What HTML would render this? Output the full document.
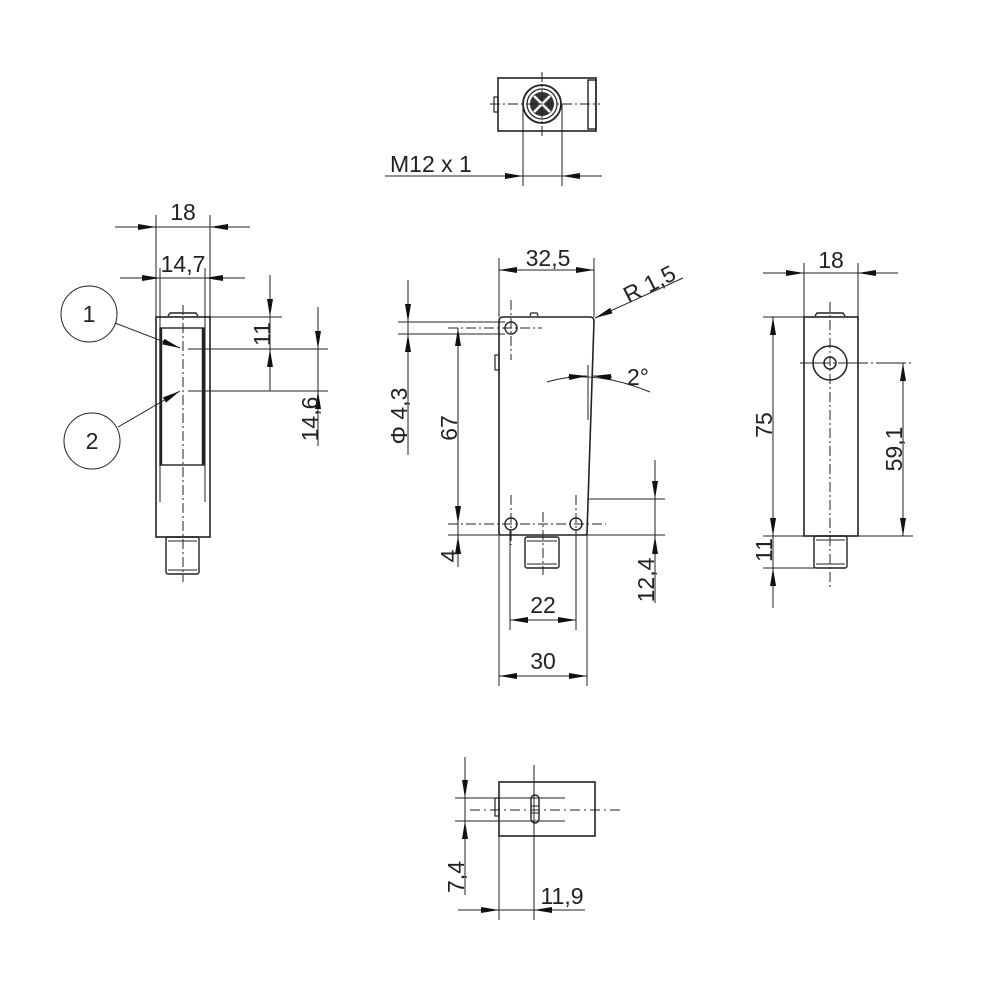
<!DOCTYPE html>
<html><head><meta charset="utf-8"><style>
html,body{margin:0;padding:0;background:#fff}
svg{display:block}
text{font-family:"Liberation Sans",sans-serif;font-size:23px;fill:#222}
</style></head><body>
<svg width="1000" height="1000" viewBox="0 0 1000 1000" xmlns="http://www.w3.org/2000/svg">
<defs>
<marker id="a" viewBox="0 0 18 6" refX="18" refY="3" markerWidth="18" markerHeight="6" markerUnits="userSpaceOnUse" orient="auto"><path d="M0,0 L18,3 L0,6 z" fill="#111"/></marker>
</defs>
<g stroke="#222" fill="none" stroke-width="1">

<!-- TOP VIEW -->
<rect x="498" y="78" width="98" height="53" stroke-width="1.6"/>
<rect x="588" y="80" width="8" height="49" stroke-width="1.4"/>
<rect x="494" y="97" width="4" height="15" stroke-width="1.2"/>
<circle cx="542" cy="104" r="19" stroke-width="1.8"/>
<circle cx="542" cy="104" r="15" stroke-width="1.2"/>
<circle cx="542" cy="104" r="12" fill="#333" stroke="none"/>
<g stroke="#fff" stroke-width="2.5"><line x1="534" y1="96" x2="550" y2="112"/><line x1="550" y1="96" x2="534" y2="112"/></g>
<line x1="542" y1="72" x2="542" y2="138" stroke-dasharray="10 3 2 3"/>
<line x1="490" y1="104" x2="600" y2="104" stroke-dasharray="10 3 2 3"/>
<line x1="523" y1="104" x2="523" y2="186"/>
<line x1="562" y1="104" x2="562" y2="186"/>
<line x1="385" y1="176" x2="602" y2="176"/>
<line x1="505" y1="176" x2="523" y2="176" marker-end="url(#a)"/>
<line x1="580" y1="176" x2="562" y2="176" marker-end="url(#a)"/>

<!-- LEFT VIEW -->
<rect x="156" y="317" width="54" height="220" stroke-width="1.6"/>
<rect x="160" y="328" width="44" height="137" stroke-width="1.4"/>
<line x1="161" y1="328" x2="161" y2="465" stroke-width="2.4"/>
<line x1="203" y1="328" x2="203" y2="465" stroke-width="2.4"/>
<line x1="160" y1="317" x2="160" y2="502"/>
<line x1="205" y1="317" x2="205" y2="502"/>
<path d="M168,316 L170,313 L196,313 L198,316" stroke-width="1.4"/>
<rect x="166" y="537" width="33" height="37" rx="2" stroke-width="1.4"/>
<line x1="168" y1="541" x2="197" y2="541"/><line x1="168" y1="570" x2="197" y2="570"/>
<line x1="183" y1="305" x2="183" y2="582" stroke-dasharray="10 3 2 3"/>
<line x1="156" y1="215" x2="156" y2="317"/>
<line x1="210" y1="215" x2="210" y2="317"/>
<line x1="160" y1="268" x2="160" y2="330"/>
<line x1="205" y1="268" x2="205" y2="330"/>
<line x1="115" y1="227" x2="250" y2="227"/>
<line x1="138" y1="227" x2="156" y2="227" marker-end="url(#a)"/>
<line x1="228" y1="227" x2="210" y2="227" marker-end="url(#a)"/>
<line x1="120" y1="278" x2="245" y2="278"/>
<line x1="142" y1="278" x2="160" y2="278" marker-end="url(#a)"/>
<line x1="223" y1="278" x2="205" y2="278" marker-end="url(#a)"/>
<line x1="210" y1="317" x2="282" y2="317"/>
<line x1="188" y1="349" x2="328" y2="349"/>
<line x1="188" y1="391" x2="328" y2="391"/>
<line x1="270" y1="275" x2="270" y2="391"/>
<line x1="270" y1="297" x2="270" y2="317" marker-end="url(#a)"/>
<line x1="270" y1="369" x2="270" y2="349" marker-end="url(#a)"/>
<line x1="318" y1="307" x2="318" y2="446"/>
<line x1="318" y1="330" x2="318" y2="349" marker-end="url(#a)"/>
<line x1="318" y1="410" x2="318" y2="391" marker-end="url(#a)"/>
<circle cx="89" cy="314" r="28"/>
<circle cx="92" cy="441" r="28"/>
<line x1="115" y1="323" x2="180" y2="348" marker-end="url(#a)"/>
<line x1="118" y1="427" x2="180" y2="391" marker-end="url(#a)"/>

<!-- MAIN VIEW -->
<path d="M503,317 L590,317 Q594,317 594,321 L587,533 Q587,535 585,535 L501,535 Q499,535 499,533 L499,321 Q499,317 503,317 Z" stroke-width="1.6"/>
<path d="M530,316 L531,313 L537,313 L538,316" stroke-width="1.2"/>
<rect x="495" y="355" width="4" height="15" stroke-width="1.2"/>
<circle cx="511" cy="328" r="6" stroke-width="1.4"/>
<circle cx="511" cy="524" r="6" stroke-width="1.4"/>
<circle cx="576" cy="524" r="6" stroke-width="1.4"/>
<rect x="525" y="537" width="34" height="31" rx="2" stroke-width="1.4"/>
<line x1="527" y1="541" x2="557" y2="541"/><line x1="527" y1="564" x2="557" y2="564"/>
<g stroke-dasharray="10 3 2 3">
<line x1="511" y1="300" x2="511" y2="360"/>
<line x1="511" y1="495" x2="511" y2="545"/>
<line x1="576" y1="495" x2="576" y2="545"/>
<line x1="543" y1="512" x2="543" y2="575"/>
<line x1="448" y1="328" x2="542" y2="328"/>
<line x1="448" y1="524" x2="606" y2="524"/>
</g>
<line x1="499" y1="258" x2="499" y2="317"/>
<line x1="594" y1="258" x2="594" y2="317"/>
<line x1="499" y1="270" x2="594" y2="270"/>
<line x1="517" y1="270" x2="499" y2="270" marker-end="url(#a)"/>
<line x1="576" y1="270" x2="594" y2="270" marker-end="url(#a)"/>
<line x1="683" y1="278" x2="595" y2="318" marker-end="url(#a)"/>
<line x1="588" y1="365" x2="588" y2="420"/>
<path d="M547,382 Q592,368 650,392"/>
<line x1="568" y1="377" x2="587" y2="376" marker-end="url(#a)"/>
<line x1="612" y1="377" x2="593" y2="376" marker-end="url(#a)"/>
<line x1="398" y1="322" x2="505" y2="322"/>
<line x1="398" y1="334" x2="505" y2="334"/>
<line x1="408" y1="280" x2="408" y2="455"/>
<line x1="408" y1="302" x2="408" y2="322" marker-end="url(#a)"/>
<line x1="408" y1="354" x2="408" y2="334" marker-end="url(#a)"/>
<line x1="458" y1="328" x2="458" y2="567"/>
<line x1="458" y1="346" x2="458" y2="328" marker-end="url(#a)"/>
<line x1="458" y1="506" x2="458" y2="524" marker-end="url(#a)"/>
<line x1="458" y1="555" x2="458" y2="536" marker-end="url(#a)"/>
<line x1="448" y1="535" x2="665" y2="535"/>
<line x1="588" y1="499" x2="665" y2="499"/>
<line x1="655" y1="460" x2="655" y2="603"/>
<line x1="655" y1="480" x2="655" y2="499" marker-end="url(#a)"/>
<line x1="655" y1="555" x2="655" y2="536" marker-end="url(#a)"/>
<line x1="510" y1="530" x2="510" y2="630"/>
<line x1="576" y1="530" x2="576" y2="630"/>
<line x1="510" y1="620" x2="576" y2="620"/>
<line x1="528" y1="620" x2="510" y2="620" marker-end="url(#a)"/>
<line x1="558" y1="620" x2="576" y2="620" marker-end="url(#a)"/>
<line x1="499" y1="535" x2="499" y2="686"/>
<line x1="587" y1="535" x2="587" y2="686"/>
<line x1="499" y1="676" x2="587" y2="676"/>
<line x1="517" y1="676" x2="499" y2="676" marker-end="url(#a)"/>
<line x1="569" y1="676" x2="587" y2="676" marker-end="url(#a)"/>

<!-- RIGHT VIEW -->
<rect x="804" y="317" width="54" height="219" stroke-width="1.6"/>
<path d="M815,316 L817,313 L843,313 L845,316" stroke-width="1.4"/>
<circle cx="830" cy="363" r="17" stroke-width="1.5"/>
<circle cx="830" cy="363" r="6" stroke-width="1.5"/>
<rect x="814" y="536" width="33" height="32" rx="2" stroke-width="1.4"/>
<line x1="816" y1="540" x2="845" y2="540"/><line x1="816" y1="564" x2="845" y2="564"/>
<line x1="830" y1="302" x2="830" y2="590" stroke-dasharray="10 3 2 3"/>
<line x1="800" y1="363" x2="913" y2="363" stroke-dasharray="30 3 2 3"/>
<line x1="804" y1="263" x2="804" y2="317"/>
<line x1="858" y1="263" x2="858" y2="317"/>
<line x1="763" y1="273" x2="898" y2="273"/>
<line x1="786" y1="273" x2="804" y2="273" marker-end="url(#a)"/>
<line x1="876" y1="273" x2="858" y2="273" marker-end="url(#a)"/>
<line x1="763" y1="317" x2="804" y2="317"/>
<line x1="763" y1="536" x2="913" y2="536"/>
<line x1="763" y1="568" x2="830" y2="568"/>
<line x1="773" y1="317" x2="773" y2="608"/>
<line x1="773" y1="336" x2="773" y2="317" marker-end="url(#a)"/>
<line x1="773" y1="517" x2="773" y2="536" marker-end="url(#a)"/>
<line x1="773" y1="587" x2="773" y2="568" marker-end="url(#a)"/>
<line x1="903" y1="363" x2="903" y2="536"/>
<line x1="903" y1="382" x2="903" y2="363" marker-end="url(#a)"/>
<line x1="903" y1="517" x2="903" y2="536" marker-end="url(#a)"/>

<!-- BOTTOM VIEW -->
<rect x="499" y="782" width="96" height="54" stroke-width="1.6"/>
<rect x="495" y="798" width="4" height="18" stroke-width="1.2"/>
<rect x="531" y="795" width="8" height="28" rx="4" stroke-width="1.4"/>
<line x1="531" y1="806" x2="539" y2="806"/><line x1="531" y1="813" x2="539" y2="813"/>
<line x1="534" y1="765" x2="534" y2="920"/>
<line x1="455" y1="798" x2="565" y2="798"/>
<line x1="455" y1="821" x2="565" y2="821"/>
<line x1="470" y1="810" x2="620" y2="810" stroke-dasharray="10 4 2 4"/>
<line x1="465" y1="757" x2="465" y2="895"/>
<line x1="465" y1="779" x2="465" y2="798" marker-end="url(#a)"/>
<line x1="465" y1="840" x2="465" y2="821" marker-end="url(#a)"/>
<line x1="499" y1="836" x2="499" y2="920"/>
<line x1="458" y1="910" x2="585" y2="910"/>
<line x1="481" y1="910" x2="499" y2="910" marker-end="url(#a)"/>
<line x1="552" y1="910" x2="534" y2="910" marker-end="url(#a)"/>
</g>

<g>
<text x="390" y="172">M12 x 1</text>
<text x="183" y="220" text-anchor="middle">18</text>
<text x="183" y="272" text-anchor="middle">14,7</text>
<text x="89" y="322" text-anchor="middle">1</text>
<text x="92" y="449" text-anchor="middle">2</text>
<text transform="translate(270,334) rotate(-90)" text-anchor="middle">11</text>
<text transform="translate(318,419) rotate(-90)" text-anchor="middle">14,6</text>
<text x="548" y="266" text-anchor="middle">32,5</text>
<text transform="translate(653,291) rotate(-27)" text-anchor="middle">R 1,5</text>
<text x="627" y="385">2°</text>
<text transform="translate(407,416) rotate(-90)" text-anchor="middle">Φ 4,3</text>
<text transform="translate(457,428) rotate(-90)" text-anchor="middle">67</text>
<text transform="translate(457,556) rotate(-90)" text-anchor="middle">4</text>
<text transform="translate(654,580) rotate(-90)" text-anchor="middle">12,4</text>
<text x="543" y="613" text-anchor="middle">22</text>
<text x="543" y="669" text-anchor="middle">30</text>
<text x="831" y="268" text-anchor="middle">18</text>
<text transform="translate(772,425) rotate(-90)" text-anchor="middle">75</text>
<text transform="translate(772,550) rotate(-90)" text-anchor="middle">11</text>
<text transform="translate(902,449) rotate(-90)" text-anchor="middle">59,1</text>
<text transform="translate(464,877) rotate(-90)" text-anchor="middle">7,4</text>
<text x="562" y="904" text-anchor="middle">11,9</text>
</g>
</svg>
</body></html>
